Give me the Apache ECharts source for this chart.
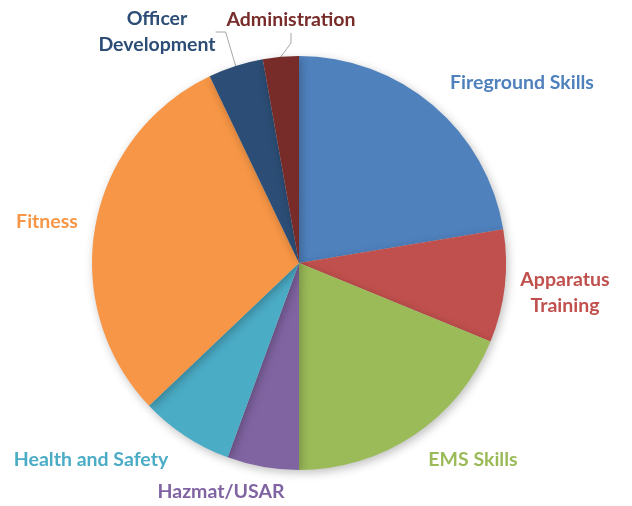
<!DOCTYPE html>
<html>
<head>
<meta charset="utf-8">
<script src="https://cdn.jsdelivr.net/npm/echarts@6/dist/echarts.min.js"></script>
<style>
    html, body { margin: 0; padding: 0; background: #fff; }
    #chart { width: 632px; height: 506px; }
</style>
</head>
<body>
<div id="chart"></div>
<script>
var categories = ['Fireground Skills', 'Apparatus Training', 'EMS Skills', 'Hazmat/USAR',
    'Health and Safety', 'Fitness', 'Officer Development', 'Administration']
var hours = [22.4, 8.8, 18.8, 5.6, 7.3, 30.0, 4.3, 2.8]
var labelText = ['Fireground Skills', 'Apparatus\nTraining', 'EMS Skills', 'Hazmat/USAR',
    'Health and Safety', 'Fitness', 'Officer\nDevelopment', 'Administration']
var colors = ['#4F81BD', '#C0504D', '#9BBB59', '#8064A2', '#4BACC6', '#F79646', '#2C4D75', '#772C2A']
// label centres, placed by hand like the original
var labelPos = [[522, 83], [565, 293], [473, 460], [221, 492], [91, 460], [47, 222], [157, 32], [291, 20]]
var withLine = [false, false, false, false, false, false, true, true]

var chart = echarts.init(document.getElementById('chart'))
chart.setOption({
    animation: false,
    series: [{
        type: 'pie',
        center: [299, 263],
        radius: 207,
        startAngle: 90,
        clockwise: true,
        itemStyle: {
            borderWidth: 0,
            shadowColor: 'rgba(0,0,0,0.25)',
            shadowBlur: 10,
            shadowOffsetX: 2,
            shadowOffsetY: 3
        },
        label: {
            show: true,
            position: 'outside',
            fontFamily: 'Lato',
            fontWeight: 'bold',
            fontSize: 19.5,
            lineHeight: 26,
            align: 'center'
        },
        labelLine: {
            show: true,
            length: 10,
            length2: 10,
            lineStyle: { color: '#a6a6a6', width: 1 }
        },
        labelLayout: function (params) {
            var p = labelPos[params.dataIndex]
            return { x: p[0], y: p[1], align: 'center', verticalAlign: 'middle' }
        },
        emphasis: { disabled: true },
        data: categories.map(function (name, i) {
            return {
                name: name,
                value: hours[i],
                itemStyle: { color: colors[i] },
                label: { formatter: labelText[i], color: colors[i] },
                labelLine: { show: withLine[i] }
            }
        })
    }]
})
</script>
</body>
</html>
